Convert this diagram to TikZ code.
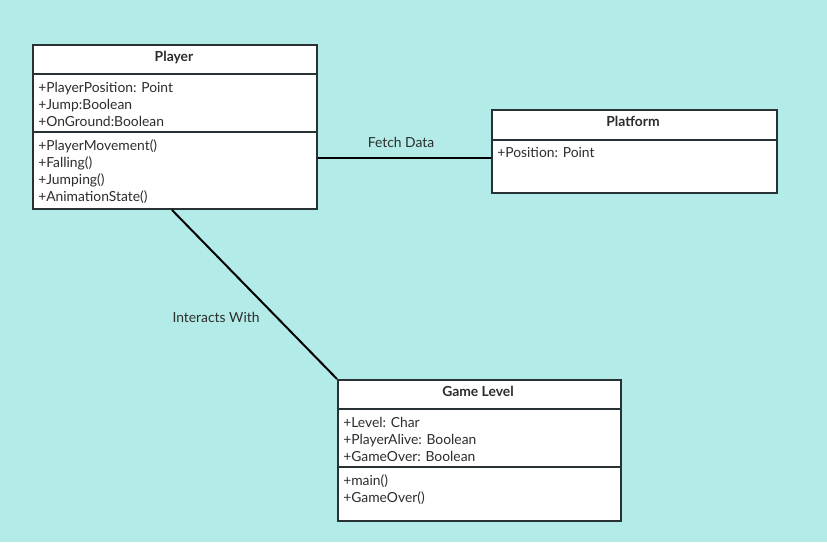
\documentclass[tikz,border=0pt]{standalone}
\usepackage{fontspec}
\setmainfont{Lato}
\usetikzlibrary{positioning}
\definecolor{bgcyan}{RGB}{178,235,231}
\definecolor{boxline}{RGB}{40,50,52}
\definecolor{txtgrey}{RGB}{45,45,45}
\tikzset{
  classbox/.style={draw=boxline, line width=1.5pt, fill=white, rectangle, inner sep=0pt, anchor=north west},
  classtitle/.style={inner sep=0pt, text height=7.5pt, text depth=2.2pt, font=\bfseries\fontsize{10.4}{12}\selectfont, text=txtgrey},
  member/.style={anchor=west, inner sep=0pt, text height=7.5pt, text depth=2.2pt, font=\fontsize{10.4}{12}\selectfont, text=txtgrey},
  divider/.style={draw=boxline, line width=1.5pt},
  link/.style={line width=1.5pt, black},
  linklabel/.style={inner sep=0pt, text height=7.5pt, text depth=2.2pt, font=\fontsize{10.4}{12}\selectfont, text=txtgrey},
}

\begin{document}
\begin{tikzpicture}[x=0.75pt, y=-0.75pt]
            \fill[bgcyan] (0,0) rectangle (827,542);
            \useasboundingbox (0,0) rectangle (827,542);
            % classes
            \node[classbox, minimum width=213pt, minimum height=123pt] (player) at (32,44) {};
            \node[classbox, minimum width=213.75pt, minimum height=62.25pt] (platform) at (491,109) {};
            \node[classbox, minimum width=212.25pt, minimum height=105.75pt] (level) at (337,379) {};
            \draw[divider] (32,74) -- (316,74);
            \draw[divider] (32,132) -- (316,132);
            \draw[divider] (491,140) -- (776,140);
            \draw[divider] (337,409) -- (620,409);
            \draw[divider] (337,467) -- (620,467);
            % Player
            \node[classtitle] (playertitle) at (174,57.5) {Player};
            \node[member] (pa1) at (38,88.5) {+PlayerPosition: Point};
            \node[member] (pa2) at (38,105.5) {+Jump:Boolean};
            \node[member] (pa3) at (38,122.5) {+OnGround:Boolean};
            \node[member] (pm1) at (38,146.5) {+PlayerMovement()};
            \node[member] (pm2) at (38,163.5) {+Falling()};
            \node[member] (pm3) at (38,180.5) {+Jumping()};
            \node[member] (pm4) at (38,197.5) {+AnimationState()};
            % Platform
            \node[classtitle] (platformtitle) at (633,122.5) {Platform};
            \node[member] (fa1) at (497,153.5) {+Position: Point};
            % Game Level
            \node[classtitle] (leveltitle) at (478,392.5) {Game Level};
            \node[member] (la1) at (343,423.5) {+Level: Char};
            \node[member] (la2) at (343,440.5) {+PlayerAlive: Boolean};
            \node[member] (la3) at (343,457.5) {+GameOver: Boolean};
            \node[member] (lm1) at (343,481.5) {+main()};
            \node[member] (lm2) at (343,498.5) {+GameOver()};
            % links
            \draw[link] ([yshift=-23.25pt]player.east) -- ([yshift=-4.875pt]platform.west)
                node[linklabel, pos=0.48, above=5pt] (fetch) {Fetch Data};
            \draw[link] ([xshift=-2.25pt]player.south) -- (level.north west);
            \node[linklabel] (interacts) at (216,318.5) {Interacts With};
        \end{tikzpicture}
\end{document}
